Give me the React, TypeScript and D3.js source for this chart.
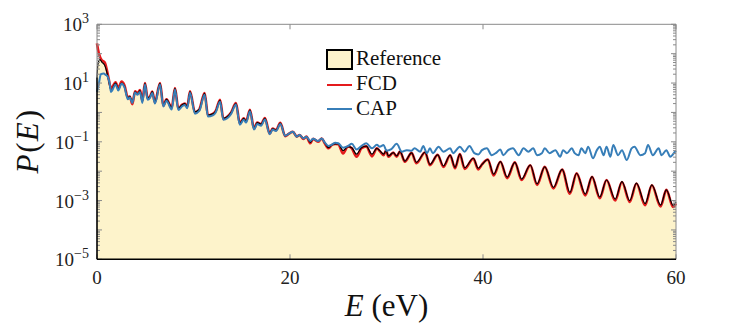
import React from 'react';
import * as d3 from 'd3';

// [energy (eV), P(E)]
const reference: [number, number][] = [
  [0, 15.8], [0.1, 44.7], [0.3, 63], [0.5, 52], [0.8, 40], [1.0, 25], [1.2, 12.6], [1.45, 5.6],
  [1.93, 10], [2.2, 6.3], [2.55, 10], [2.85, 7.6], [3.2, 3.0], [3.4, 3.5], [3.66, 2.2], [3.94, 5.0],
  [4.2, 4.3], [4.46, 5.5], [4.7, 2.3], [4.97, 9.8], [5.25, 3.0], [5.5, 3.5], [5.73, 5.1], [6.0, 2.3],
  [6.53, 9.8], [6.87, 1.8], [7.2, 2.8], [7.74, 1.5], [8.08, 6.6], [8.43, 1.4], [8.8, 1.8], [9.1, 2.0],
  [9.35, 1.6], [9.64, 5.1], [10.15, 1.05], [10.6, 1.26], [11.15, 4.5], [11.5, 0.81], [12.0, 0.89],
  [12.3, 1.12], [12.75, 2.6], [13.1, 0.63], [13.5, 0.71], [13.9, 1.0], [14.4, 2.0], [14.8, 0.43],
  [15.2, 0.63], [15.45, 0.5], [15.85, 1.2], [16.27, 0.29], [16.6, 0.45], [17.0, 0.4], [17.4, 0.63],
  [17.9, 0.195], [18.2, 0.28], [18.55, 0.25], [19.0, 0.43], [19.5, 0.16], [19.9, 0.19], [20.3, 0.22],
  [20.7, 0.15], [21.0, 0.17], [21.4, 0.13], [21.7, 0.15], [22.1, 0.095], [22.4, 0.126], [22.9, 0.107],
  [23.3, 0.13], [23.6, 0.093], [24.0, 0.063], [24.3, 0.076], [24.7, 0.085], [25.0, 0.085], [25.5, 0.05],
  [26.0, 0.069], [26.4, 0.063], [26.9, 0.038], [27.4, 0.063], [27.9, 0.071], [28.5, 0.038], [29.0, 0.06],
  [29.3, 0.05], [29.7, 0.038], [29.95, 0.05], [30.2, 0.033], [30.7, 0.043], [31.05, 0.033], [31.4, 0.047],
  [31.9, 0.022], [32.6, 0.042], [33.1, 0.02], [34.0, 0.044], [34.5, 0.017], [35.3, 0.036], [35.9, 0.015],
  [36.6, 0.035], [37.1, 0.0135], [37.6, 0.038], [38.1, 0.013], [39.0, 0.0275], [39.5, 0.0126], [39.9, 0.017],
  [40.5, 0.025], [41.1, 0.0079], [41.8, 0.021], [42.5, 0.0063], [43.3, 0.02], [44.0, 0.0054], [44.9, 0.0162],
  [45.6, 0.0037], [46.4, 0.0141], [47.3, 0.0028], [48.2, 0.0115], [49.0, 0.0019], [49.7, 0.0085],
  [50.6, 0.00166], [51.3, 0.0065], [52.1, 0.00132], [52.8, 0.005], [53.7, 0.00112], [54.4, 0.0044],
  [55.2, 0.001], [55.9, 0.0039], [56.8, 0.00079], [57.5, 0.0034], [58.4, 0.0007], [59.0, 0.0023],
  [59.7, 0.00068], [60.0, 0.00089],
];

const fcd: [number, number][] = [
  [0, 224], [0.1, 141], [0.3, 79], [0.5, 60], [0.8, 50], [1.0, 30], [1.2, 14.5], [1.45, 6.6],
  [1.93, 10.7], [2.2, 6.6], [2.55, 11.2], [2.85, 8.3], [3.2, 3.2], [3.4, 3.5], [3.66, 1.9], [3.94, 5.2],
  [4.2, 4.5], [4.46, 5.8], [4.7, 2.5], [4.97, 10], [5.25, 3.0], [5.5, 3.5], [5.73, 5.1], [6.0, 2.2],
  [6.53, 10], [6.87, 1.7], [7.2, 2.8], [7.74, 1.45], [8.08, 6.8], [8.43, 1.35], [8.8, 1.8], [9.1, 2.0],
  [9.35, 1.55], [9.64, 5.2], [10.15, 1.0], [10.6, 1.26], [11.15, 4.6], [11.5, 0.79], [12.0, 0.89],
  [12.3, 1.12], [12.75, 2.7], [13.1, 0.6], [13.5, 0.71], [13.9, 1.0], [14.4, 2.1], [14.8, 0.42],
  [15.2, 0.63], [15.45, 0.5], [15.85, 1.22], [16.27, 0.28], [16.6, 0.45], [17.0, 0.4], [17.4, 0.64],
  [17.9, 0.19], [18.2, 0.28], [18.55, 0.25], [19.0, 0.44], [19.5, 0.155], [19.9, 0.19], [20.3, 0.22],
  [20.7, 0.15], [21.0, 0.17], [21.4, 0.125], [21.7, 0.15], [22.1, 0.089], [22.4, 0.126], [22.9, 0.1],
  [23.3, 0.13], [23.6, 0.089], [24.0, 0.06], [24.3, 0.076], [24.7, 0.085], [25.0, 0.083], [25.5, 0.04],
  [26.0, 0.069], [26.4, 0.06], [26.9, 0.031], [27.4, 0.06], [27.9, 0.07], [28.5, 0.032], [29.0, 0.06],
  [29.3, 0.048], [29.7, 0.035], [29.95, 0.05], [30.2, 0.031], [30.7, 0.043], [31.05, 0.031], [31.4, 0.047],
  [31.9, 0.021], [32.6, 0.042], [33.1, 0.0186], [34.0, 0.044], [34.5, 0.016], [35.3, 0.036], [35.9, 0.014],
  [36.6, 0.035], [37.1, 0.0125], [37.6, 0.038], [38.1, 0.012], [39.0, 0.027], [39.5, 0.0115], [39.9, 0.017],
  [40.5, 0.025], [41.1, 0.0072], [41.8, 0.021], [42.5, 0.0058], [43.3, 0.02], [44.0, 0.005], [44.9, 0.016],
  [45.6, 0.0034], [46.4, 0.014], [47.3, 0.0026], [48.2, 0.0113], [49.0, 0.0017], [49.7, 0.0084],
  [50.6, 0.0015], [51.3, 0.0064], [52.1, 0.0012], [52.8, 0.005], [53.7, 0.001], [54.4, 0.0043],
  [55.2, 0.0009], [55.9, 0.0038], [56.8, 0.0007], [57.5, 0.0033], [58.4, 0.00063], [59.0, 0.0023],
  [59.7, 0.0006], [60.0, 0.0008],
];

const cap: [number, number][] = [
  [0, 5.0], [0.2, 10], [0.4, 20], [0.7, 21], [0.9, 19], [1.1, 16.6], [1.3, 10], [1.45, 5.0],
  [1.93, 8.9], [2.2, 5.6], [2.55, 9.5], [2.85, 7.1], [3.2, 2.8], [3.4, 3.2], [3.66, 2.1], [3.94, 4.8],
  [4.2, 4.0], [4.46, 5.0], [4.7, 2.1], [4.97, 8.9], [5.25, 2.7], [5.5, 3.2], [5.73, 4.6], [6.0, 2.0],
  [6.53, 8.9], [6.87, 1.6], [7.2, 2.5], [7.74, 1.26], [8.08, 6.0], [8.43, 1.2], [8.8, 1.6], [9.1, 1.8],
  [9.35, 1.38], [9.64, 4.7], [10.15, 0.91], [10.6, 1.12], [11.15, 4.0], [11.5, 0.72], [12.0, 0.79],
  [12.3, 1.0], [12.75, 2.3], [13.1, 0.56], [13.5, 0.63], [13.9, 0.89], [14.4, 1.86], [14.8, 0.38],
  [15.2, 0.56], [15.45, 0.45], [15.85, 1.1], [16.27, 0.26], [16.6, 0.4], [17.0, 0.355], [17.4, 0.575],
  [17.9, 0.18], [18.2, 0.26], [18.55, 0.234], [19.0, 0.4], [19.5, 0.16], [19.9, 0.19], [20.3, 0.22],
  [20.7, 0.15], [21.0, 0.17], [21.4, 0.13], [21.7, 0.15], [22.1, 0.107], [22.4, 0.126], [22.9, 0.107],
  [23.3, 0.13], [23.6, 0.095], [24.0, 0.072], [24.3, 0.079], [24.7, 0.093], [25.0, 0.089], [25.5, 0.063],
  [26.0, 0.071], [26.4, 0.085], [26.9, 0.055], [27.4, 0.072], [27.9, 0.089], [28.5, 0.06], [29.0, 0.079],
  [29.3, 0.068], [29.7, 0.078], [30.0, 0.05], [30.5, 0.056], [31.05, 0.085], [31.6, 0.046], [32.1, 0.052],
  [32.6, 0.05], [32.9, 0.06], [33.5, 0.046], [33.8, 0.072], [34.2, 0.041], [34.5, 0.06], [34.8, 0.041],
  [35.4, 0.068], [35.9, 0.046], [36.6, 0.06], [36.9, 0.041], [37.6, 0.068], [38.1, 0.046], [38.6, 0.072],
  [39.1, 0.041], [39.5, 0.037], [39.9, 0.052], [40.4, 0.06], [40.9, 0.035], [41.4, 0.043], [41.8, 0.055],
  [42.1, 0.035], [42.6, 0.052], [43.1, 0.06], [43.7, 0.035], [44.2, 0.06], [44.7, 0.046], [45.2, 0.06],
  [45.6, 0.035], [46.1, 0.041], [46.4, 0.06], [46.9, 0.041], [47.5, 0.052], [48.0, 0.031], [48.3, 0.052],
  [48.7, 0.041], [49.2, 0.06], [49.5, 0.041], [49.9, 0.035], [50.2, 0.06], [50.6, 0.041], [50.9, 0.068],
  [51.4, 0.0275], [51.8, 0.052], [52.1, 0.068], [52.5, 0.035], [52.8, 0.068], [53.2, 0.031], [53.5, 0.078],
  [54.0, 0.035], [54.4, 0.052], [54.9, 0.024], [55.4, 0.06], [55.7, 0.068], [56.3, 0.035], [56.8, 0.041],
  [57.1, 0.078], [57.6, 0.035], [58.2, 0.06], [58.5, 0.035], [59.0, 0.052], [59.4, 0.031], [59.9, 0.046],
  [60.0, 0.05],
];

const xTicks = [0, 20, 40, 60];
const yLabelExponents = [3, 1, -1, -3, -5];
const legendLabels = ['Reference', 'FCD', 'CAP'];

const FONT = "'Liberation Serif', 'Times New Roman', serif";
const FILL = '#fdf3cb';
const RED = '#e41a1c';
const BLUE = '#377eb8';
const AXIS = '#8a8a8a';

export default function App() {
  const left = 97, right = 676, top = 24.3, bottom = 259.3;
  const x = d3.scaleLinear().domain([0, 60]).range([left, right]);
  const y = d3.scaleLog().domain([1e-5, 1e3]).range([bottom, top]);

  const line = d3
    .line<[number, number]>()
    .x((d) => x(d[0]))
    .y((d) => y(d[1]))
    .curve(d3.curveMonotoneX);
  const area = d3
    .area<[number, number]>()
    .x((d) => x(d[0]))
    .y0(y(1e-5))
    .y1((d) => y(d[1]))
    .curve(d3.curveMonotoneX);

  const majors: number[] = [];
  const minors: number[] = [];
  for (let e = -5; e <= 3; e++) {
    majors.push(Math.pow(10, e));
    if (e < 3) for (let m = 2; m <= 9; m++) minors.push(m * Math.pow(10, e));
  }

  const fmtExp = (e: number) => (e < 0 ? '\u2212' + Math.abs(e) : String(e));

  return (
    <svg
      width={747}
      height={327}
      style={{ position: 'absolute', left: 0, top: 0, background: '#fff' }}
      fontFamily={FONT}
    >
      <rect x={0} y={0} width={747} height={327} fill="#fff" />
      {/* Reference area */}
      <path d={area(reference) || ''} fill={FILL} stroke="none" />
      {/* FCD (wider, underneath) */}
      <path d={line(fcd) || ''} fill="none" stroke={RED} strokeWidth={2.6} strokeLinejoin="round" />
      {/* Reference outline */}
      <path d={line(reference) || ''} fill="none" stroke="#000" strokeWidth={1.2} strokeLinejoin="round" />
      {/* CAP */}
      <path d={line(cap) || ''} fill="none" stroke={BLUE} strokeWidth={2} strokeLinejoin="round" />

      {/* box */}
      <line x1={left} x2={right} y1={top} y2={top} stroke={AXIS} strokeWidth={1} />
      <line x1={right} x2={right} y1={top} y2={bottom} stroke={AXIS} strokeWidth={1} />
      {/* y ticks */}
      {majors.map((v, i) => (
        <g key={'M' + i}>
          <line x1={left} x2={left + 5} y1={y(v)} y2={y(v)} stroke={AXIS} />
          <line x1={right} x2={right - 5} y1={y(v)} y2={y(v)} stroke={AXIS} />
        </g>
      ))}
      {minors.map((v, i) => (
        <g key={'m' + i}>
          <line x1={left} x2={left + 3} y1={y(v)} y2={y(v)} stroke={AXIS} />
          <line x1={right} x2={right - 3} y1={y(v)} y2={y(v)} stroke={AXIS} />
        </g>
      ))}
      {/* x ticks */}
      {xTicks.map((t) => (
        <g key={'x' + t}>
          <line x1={x(t)} x2={x(t)} y1={bottom} y2={bottom - 5} stroke={AXIS} />
          <line x1={x(t)} x2={x(t)} y1={top} y2={top + 5} stroke={AXIS} />
        </g>
      ))}
      {/* left & bottom edges (black) */}
      <line x1={left} x2={left} y1={bottom} y2={y(reference[0][1])} stroke="#000" strokeWidth={1.6} />
      <line x1={left} x2={left} y1={y(reference[0][1])} y2={top} stroke={AXIS} strokeWidth={1} />
      <line x1={left} x2={right} y1={bottom} y2={bottom} stroke="#000" strokeWidth={1.6} />

      {/* x tick labels */}
      {xTicks.map((t) => (
        <text key={'xl' + t} x={x(t)} y={284} textAnchor="middle" fontSize={19} fill="#222">
          {t}
        </text>
      ))}
      {/* y tick labels */}
      {yLabelExponents.map((e) => (
        <text key={'yl' + e} x={89} y={y(Math.pow(10, e)) + 7} textAnchor="end" fontSize={19} fill="#222">
          10
          <tspan dy={-8} fontSize={14}>
            {fmtExp(e)}
          </tspan>
        </text>
      ))}

      {/* axis labels */}
      <text x={(left + right) / 2} y={316} textAnchor="middle" fontSize={31} fill="#111">
        <tspan fontStyle="italic">E</tspan>
        <tspan> (eV)</tspan>
      </text>
      <text transform={`translate(38, ${(top + bottom) / 2}) rotate(-90)`} textAnchor="middle" fontSize={31} fill="#111">
        <tspan fontStyle="italic">P</tspan>
        <tspan dx={2}>(</tspan>
        <tspan fontStyle="italic" dx={1}>E</tspan>
        <tspan dx={2}>)</tspan>
      </text>

      {/* legend */}
      <rect x={327} y={50} width={25} height={19} fill={FILL} stroke="#000" strokeWidth={2} />
      <line x1={327} x2={352} y1={85} y2={85} stroke={RED} strokeWidth={2} />
      <line x1={327} x2={352} y1={109} y2={109} stroke={BLUE} strokeWidth={2} />
      {legendLabels.map((l, i) => (
        <text key={l} x={356} y={65 + i * 25} fontSize={21} fill="#111">
          {l}
        </text>
      ))}
    </svg>
  );
}
